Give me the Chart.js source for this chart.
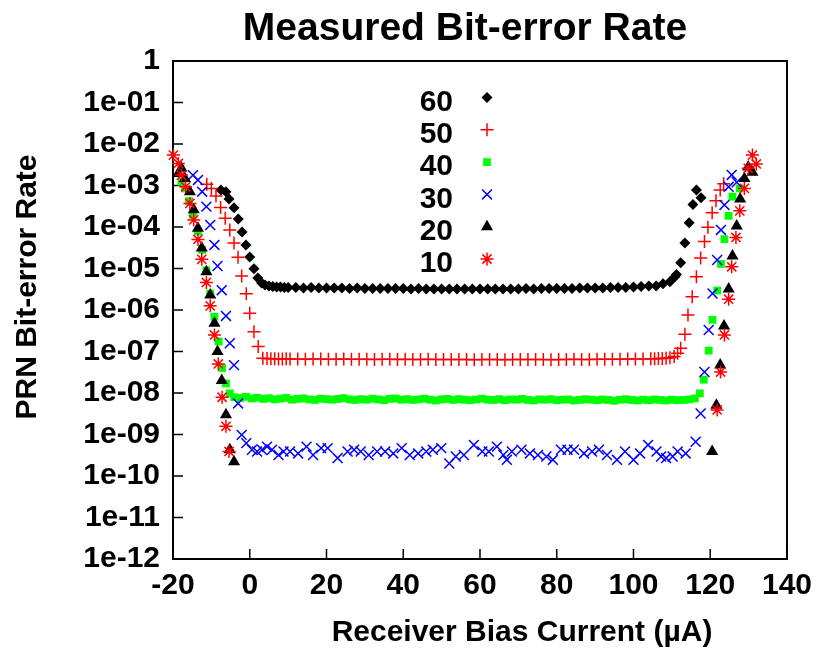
<!DOCTYPE html>
<html>
<head>
<meta charset="utf-8">
<script src="https://cdn.jsdelivr.net/npm/chart.js@4/dist/chart.umd.min.js"></script>
<style>
  html, body { margin: 0; padding: 0; background: #fff; }
  canvas { display: block; }
</style>
</head>
<body>
<canvas id="ber" width="821" height="656"></canvas>
<script>
// tick labels
const xTicks = [-20, 0, 20, 40, 60, 80, 100, 120, 140];
const yTickValues = [1e-12, 1e-11, 1e-10, 1e-9, 1e-8, 1e-7, 1e-6, 1e-5, 1e-4, 1e-3, 1e-2, 1e-1, 1];
const yTickLabels = ['1e-12', '1e-11', '1e-10', '1e-09', '1e-08', '1e-07', '1e-06', '1e-05', '1e-04', '1e-03', '1e-02', '1e-01', '1'];

// series: 60
const x60 = [-7.5, -6.2, -5.4, -4.1, -3.0, -2.0, -1.0, 0.0, 1.1, 2.1, 3.1,
  4, 5, 6, 7, 8, 9, 10,
  12, 14, 16, 18, 20, 22, 24, 26, 28, 30, 32, 34, 36, 38, 40, 42, 44, 46, 48, 50,
  52, 54, 56, 58, 60, 62, 64, 66, 68, 70, 72, 74, 76, 78, 80, 82, 84, 86, 88, 90,
  92, 94, 96, 98, 100, 102, 104,
  105.9, 107.7, 109.5, 110.8, 111.2, 112.3, 113.4, 114.5, 115.5, 116.4, 117.6];
const y60 = [7.8e-4, 7.1e-4, 4.7e-4, 2.9e-4, 1.55e-4, 7.6e-5, 3.7e-5, 1.9e-5, 9.8e-6, 5.9e-6, 4.5e-6,
  4.0e-6, 3.8e-6, 3.7e-6, 3.6e-6, 3.6e-6, 3.5e-6, 3.5e-6,
  3.5e-6, 3.4e-6, 3.5e-6, 3.4e-6, 3.4e-6, 3.4e-6, 3.4e-6, 3.3e-6, 3.4e-6, 3.3e-6,
  3.3e-6, 3.3e-6, 3.3e-6, 3.3e-6, 3.3e-6, 3.2e-6, 3.3e-6, 3.2e-6, 3.2e-6, 3.2e-6,
  3.2e-6, 3.2e-6, 3.2e-6, 3.2e-6, 3.2e-6, 3.2e-6, 3.2e-6, 3.2e-6, 3.2e-6, 3.2e-6,
  3.3e-6, 3.2e-6, 3.3e-6, 3.3e-6, 3.3e-6, 3.3e-6, 3.3e-6, 3.4e-6, 3.4e-6, 3.4e-6,
  3.4e-6, 3.5e-6, 3.5e-6, 3.5e-6, 3.6e-6, 3.7e-6, 3.8e-6,
  3.8e-6, 4.3e-6, 4.8e-6, 6.3e-6, 7.2e-6, 1.38e-5, 4.1e-5, 1.26e-4, 3.5e-4, 7.8e-4, 5.1e-4];

// series: 50
const x50 = [-11.2, -10.0, -8.8, -7.6, -6.4, -5.2, -4.1, -3.05, -2.1, -0.9, 0.0, 1.1, 2.2, 3.4,
  4.5, 5.5, 6.5, 7.5, 8.5, 9.5, 10.5,
  12.5, 14.5, 16.5, 18.5, 20.5, 22.5, 24.5, 26.5, 28.5, 30.5, 32.5, 34.5, 36.5, 38.5, 40.5, 42.5,
  44.5, 46.5, 48.5, 50.5, 52.5, 54.5, 56.5, 58.5, 60.5, 62.5, 64.5, 66.5, 68.5, 70.5, 72.5, 74.5,
  76.5, 78.5, 80.5, 82.5, 84.5, 86.5, 88.5, 90.5, 92.5, 94.5, 96.5, 98.5, 100.5, 102.5, 104.5,
  105.5, 106.5, 107.5, 108.5, 109.5,
  110.6, 111.5, 112.3, 113.4, 114.2, 115.3, 116.4, 117.5, 118.5, 119.4, 120.5, 121.5, 122.6, 123.5];
const y50 = [1.07e-3, 8.5e-4, 5.6e-4, 2.95e-4, 1.62e-4, 8.5e-5, 4.1e-5, 1.86e-5, 6.6e-6, 2.45e-6, 8.3e-7, 3.0e-7, 1.32e-7, 6.9e-8,
  6.8e-8, 6.7e-8, 6.7e-8, 6.6e-8, 6.6e-8, 6.7e-8, 6.6e-8,
  6.6e-8, 6.5e-8, 6.6e-8, 6.6e-8, 6.5e-8, 6.5e-8, 6.6e-8, 6.5e-8, 6.5e-8, 6.5e-8,
  6.4e-8, 6.5e-8, 6.5e-8, 6.4e-8, 6.5e-8, 6.4e-8, 6.4e-8, 6.5e-8, 6.4e-8, 6.4e-8,
  6.4e-8, 6.4e-8, 6.4e-8, 6.3e-8, 6.4e-8, 6.4e-8, 6.4e-8, 6.3e-8, 6.4e-8, 6.4e-8,
  6.4e-8, 6.4e-8, 6.4e-8, 6.3e-8, 6.4e-8, 6.4e-8, 6.5e-8, 6.4e-8, 6.4e-8, 6.5e-8,
  6.5e-8, 6.5e-8, 6.5e-8, 6.6e-8, 6.6e-8, 6.6e-8, 6.7e-8,
  6.7e-8, 6.8e-8, 6.8e-8, 6.9e-8, 7.1e-8,
  7.6e-8, 9.1e-8, 1.2e-7, 2.6e-7, 7.6e-7, 2.1e-6, 6.3e-6, 1.8e-5, 4.5e-5, 9.8e-5, 2.2e-4, 4.3e-4, 7.8e-4, 1.1e-3];

// series: 40
const x40 = [-17.8, -16.9, -15.8, -14.8, -13.5, -12.4, -11.3, -10.3, -9.2, -8.1, -7.2, -6.2, -5.2,
  -4, -2.5, -1, 0.5, 2, 3.5, 5, 6.5, 8, 9.5,
  11, 12.5, 14, 15.5, 17, 18.5, 20, 21.5, 23, 24.5,
  26, 27.5, 29, 30.5, 32, 33.5, 35, 36.5, 38, 39.5,
  41, 42.5, 44, 45.5, 47, 48.5, 50, 51.5, 53, 54.5,
  56, 57.5, 59, 60.5, 62, 63.5, 65, 66.5, 68, 69.5,
  71, 72.5, 74, 75.5, 77, 78.5, 80, 81.5, 83, 84.5,
  86, 87.5, 89, 90.5, 92, 93.5, 95, 96.5, 98, 99.5,
  101, 102.5, 104, 105.5, 107, 108.5, 110, 111.5, 113, 114.5, 116,
  117.3, 118.3, 119.6, 120.6, 121.8, 122.8, 123.7, 124.8, 125.8, 127.7];
const y40 = [1.23e-3, 8.5e-4, 4.2e-4, 1.95e-4, 7.8e-5, 2.8e-5, 9.1e-6, 2.5e-6, 6.9e-7, 1.74e-7, 4.0e-8, 1.7e-8, 9.8e-9,
  7.9e-9, 7.6e-9, 8.1e-9, 7.4e-9, 7.7e-9, 7.2e-9, 7.5e-9, 7.0e-9, 7.3e-9, 7.6e-9,
  6.9e-9, 7.2e-9, 7.4e-9, 7.0e-9, 6.8e-9, 7.3e-9, 7.1e-9, 6.9e-9, 7.2e-9, 7.5e-9,
  7.0e-9, 6.8e-9, 7.1e-9, 6.9e-9, 7.3e-9, 7.0e-9, 6.7e-9, 7.2e-9, 7.4e-9, 6.9e-9,
  7.1e-9, 6.8e-9, 7.0e-9, 7.3e-9, 6.9e-9, 6.6e-9, 7.0e-9, 7.2e-9, 6.8e-9, 7.1e-9,
  6.9e-9, 6.7e-9, 7.0e-9, 7.3e-9, 6.9e-9, 6.8e-9, 7.1e-9, 6.7e-9, 7.0e-9, 6.9e-9,
  7.2e-9, 6.8e-9, 6.6e-9, 7.0e-9, 6.9e-9, 7.1e-9, 6.7e-9, 6.9e-9, 7.0e-9, 6.6e-9,
  6.8e-9, 7.1e-9, 6.9e-9, 6.7e-9, 7.0e-9, 6.8e-9, 6.5e-9, 6.9e-9, 7.1e-9, 6.8e-9,
  6.6e-9, 6.9e-9, 6.7e-9, 7.0e-9, 6.8e-9, 6.6e-9, 6.9e-9, 6.7e-9, 6.8e-9, 7.0e-9, 7.4e-9,
  9.8e-9, 2.1e-8, 1.05e-7, 5.8e-7, 2.95e-6, 1.29e-5, 5.1e-5, 1.86e-4, 5.4e-4, 8.5e-4];

// series: 30
const x30 = [-14.8, -13.5, -12.4, -11.3, -10.3, -9.2, -8.4, -7.3, -6.2, -5.2, -4.1, -3.05, -2.1, -0.9,
  0.6, 1.9, 3.2, 4.5, 5.8, 7.5, 8.8, 10.5, 12.6, 14.8,
  16.5, 18.6, 20.3, 22.9, 25.5, 27.2, 28.9, 31.0, 33.2, 35.3,
  37.4, 39.6, 41.7, 43.9, 46.0, 47.7, 49.9, 52.0, 53.7, 55.8,
  58.4, 60.6, 62.3, 64.4, 66.1, 67.0, 68.3, 70.8, 73.0, 75.1,
  77.3, 79.0, 81.1, 82.8, 84.5, 87.1, 89.2, 91.0, 93.1, 95.7,
  97.8, 100.0, 101.7, 103.8, 106.0, 107.2, 108.5, 110.2, 111.5, 113.6,
  116.2, 117.5, 118.5, 119.6, 120.6, 121.8, 122.8, 123.7, 124.8, 125.6, 126.9];
const y30 = [1.78e-3, 1.35e-3, 7.1e-4, 3.1e-4, 1.12e-4, 3.7e-5, 1.15e-5, 3.0e-6, 7.2e-7, 1.58e-7, 4.7e-8, 5.6e-9, 9.8e-10, 6.2e-10,
  4.3e-10, 3.9e-10, 4.3e-10, 5.1e-10, 4.3e-10, 3.2e-10, 3.9e-10, 3.9e-10, 3.5e-10, 5.1e-10,
  3.2e-10, 4.7e-10, 4.7e-10, 2.7e-10, 3.9e-10, 4.3e-10, 3.9e-10, 3.2e-10, 3.9e-10, 3.9e-10,
  3.5e-10, 4.7e-10, 3.2e-10, 3.5e-10, 3.9e-10, 4.3e-10, 4.7e-10, 2.0e-10, 2.95e-10, 3.2e-10,
  5.6e-10, 3.9e-10, 3.9e-10, 5.1e-10, 3.2e-10, 2.45e-10, 3.9e-10, 4.3e-10, 3.5e-10, 3.2e-10,
  2.95e-10, 2.45e-10, 4.3e-10, 4.3e-10, 4.3e-10, 3.5e-10, 3.9e-10, 4.3e-10, 3.2e-10, 2.45e-10,
  3.9e-10, 2.45e-10, 3.5e-10, 5.6e-10, 3.9e-10, 2.95e-10, 2.7e-10, 2.95e-10, 3.9e-10, 3.5e-10,
  6.7e-10, 3.2e-9, 3.2e-8, 3.3e-7, 2.5e-6, 1.6e-5, 8.5e-5, 3.4e-4, 9.3e-4, 1.8e-3, 1.2e-3];

// series: 20
const x20 = [-18.6, -17.8, -16.9, -15.6, -14.6, -13.5, -12.5, -11.3, -10.3, -9.2, -8.4, -7.3, -6.2, -5.2, -4.1,
  120.5, 121.6, 122.6, 123.6, 124.8, 125.8, 126.9, 127.8, 128.9, 129.9, 131.0];
const y20 = [1.95e-3, 2.6e-3, 1.48e-3, 7.1e-4, 2.6e-4, 9.3e-5, 3.1e-5, 8.3e-6, 2.3e-6, 4.8e-7, 1.0e-7, 2.0e-8, 3.0e-9, 4.3e-10, 2.2e-10,
  3.9e-10, 5.1e-9, 4.7e-8, 4.1e-7, 3.2e-6, 2.0e-5, 1.05e-4, 4.7e-4, 1.48e-3, 2.8e-3, 2.1e-3];

// series: 10
const x10 = [-19.9, -18.6, -17.8, -16.7, -15.6, -14.6, -13.5, -12.5, -11.3, -10.3, -9.2, -8.2, -7.2, -6.2, -5.4,
  121.8, 122.7, 123.7, 124.8, 125.6, 126.7, 127.7, 128.9, 129.9, 131.0, 132.0];
const y10 = [5.4e-3, 3.4e-3, 1.78e-3, 9.3e-4, 3.7e-4, 1.48e-4, 5.0e-5, 1.66e-5, 4.6e-6, 1.26e-6, 2.5e-7, 5.0e-8, 7.9e-9, 1.58e-9, 3.9e-10,
  3.9e-9, 3.2e-8, 2.5e-7, 1.82e-6, 1.1e-5, 5.6e-5, 2.45e-4, 8.5e-4, 2.6e-3, 5.4e-3, 3.3e-3];

const FONT = "'Liberation Sans', Arial, Helvetica, sans-serif";

const pts = (xs, ys) => xs.map((x, i) => ({ x: x, y: ys[i] }));

const datasets = [
  { label: '60', data: pts(x60, y60), pointStyle: 'rectRot', pointRadius: 5.5, backgroundColor: '#000', borderColor: '#000', borderWidth: 0, order: 6 },
  { label: '50', data: pts(x50, y50), pointStyle: 'cross', pointRadius: 6.5, backgroundColor: '#ff0000', borderColor: '#ff0000', borderWidth: 1.5, order: 5 },
  { label: '40', data: pts(x40, y40), pointStyle: 'rect', pointRadius: 5.5, backgroundColor: '#00ff00', borderColor: '#00ff00', borderWidth: 0, order: 4 },
  { label: '30', data: pts(x30, y30), pointStyle: 'crossRot', pointRadius: 7, backgroundColor: '#0000ff', borderColor: '#0000ff', borderWidth: 1.5, order: 3 },
  { label: '20', data: pts(x20, y20), pointStyle: 'triangle', pointRadius: 7, backgroundColor: '#000', borderColor: '#000', borderWidth: 0, order: 2 },
  { label: '10', data: pts(x10, y10), pointStyle: 'star', pointRadius: 6.5, backgroundColor: '#ff0000', borderColor: '#ff0000', borderWidth: 1.5, order: 1 }
];
datasets.forEach(d => { d.pointHoverRadius = d.pointRadius; d.clip = false; });

// box, inward ticks, titles and the key, gnuplot style
const frame = {
  id: 'frame',
  beforeDatasetsDraw(chart) {
    const { ctx, chartArea: a, scales } = chart;
    ctx.save();
    ctx.strokeStyle = '#000';
    ctx.lineWidth = 2;
    ctx.strokeRect(a.left, a.top, a.right - a.left, a.bottom - a.top);
    ctx.lineWidth = 1.5;
    ctx.beginPath();
    scales.x.ticks.forEach(t => {
      const px = scales.x.getPixelForValue(t.value);
      ctx.moveTo(px, a.bottom);
      ctx.lineTo(px, a.bottom - 10);
    });
    scales.y.ticks.forEach(t => {
      const py = scales.y.getPixelForValue(t.value);
      ctx.moveTo(a.left, py);
      ctx.lineTo(a.left + 10, py);
    });
    ctx.stroke();
    ctx.restore();
  },
  afterDraw(chart) {
    const { ctx } = chart;
    ctx.save();
    ctx.fillStyle = '#000';
    ctx.textAlign = 'center';
    ctx.textBaseline = 'middle';
    ctx.font = 'bold 39px ' + FONT;
    ctx.fillText('Measured Bit-error Rate', 465, 29);
    ctx.font = 'bold 30px ' + FONT;
    ctx.fillText('Receiver Bias Current (\u00b5A)', 522, 633);
    ctx.save();
    ctx.translate(28, 287);
    ctx.rotate(-Math.PI / 2);
    ctx.fillText('PRN Bit-error Rate', 0, 0);
    ctx.restore();

    ctx.textAlign = 'right';
    chart.data.datasets.forEach((ds, i) => {
      const ty = 102.5 + i * 32.3;
      ctx.fillStyle = '#000';
      ctx.fillText(ds.label, 453, ty);
      ctx.fillStyle = ds.backgroundColor;
      ctx.strokeStyle = ds.borderColor;
      ctx.lineWidth = ds.borderWidth;
      Chart.helpers.drawPoint(ctx, {
        pointStyle: ds.pointStyle, radius: ds.pointRadius, rotation: 0, borderWidth: ds.borderWidth
      }, 487, ty - 5);
    });
    ctx.restore();
  }
};

new Chart(document.getElementById('ber'), {
  type: 'scatter',
  data: { datasets: datasets },
  plugins: [frame],
  options: {
    responsive: false,
    animation: false,
    devicePixelRatio: 1,
    events: [],
    layout: { padding: { top: 61, right: 25, left: 0, bottom: 0 } },
    plugins: { legend: { display: false }, tooltip: { enabled: false }, title: { display: false } },
    scales: {
      x: {
        type: 'linear',
        min: -20,
        max: 140,
        afterBuildTicks: s => { s.ticks = xTicks.map(v => ({ value: v })); },
        afterFit: s => { s.height = 97; },
        grid: { display: true, drawOnChartArea: false, drawTicks: false },
        border: { display: false },
        ticks: {
          autoSkip: false, maxRotation: 0, padding: 9, color: '#000',
          font: { family: FONT, size: 30, weight: 'bold' }
        }
      },
      y: {
        type: 'logarithmic',
        min: 1e-12,
        max: 1,
        afterBuildTicks: s => { s.ticks = yTickValues.map(v => ({ value: v })); },
        afterFit: s => { s.width = 173; },
        grid: { display: true, drawOnChartArea: false, drawTicks: false },
        border: { display: false },
        ticks: {
          autoSkip: false, padding: 13, color: '#000',
          font: { family: FONT, size: 30, weight: 'bold' },
          callback: (v, i) => yTickLabels[i]
        }
      }
    }
  }
});
</script>
</body>
</html>
